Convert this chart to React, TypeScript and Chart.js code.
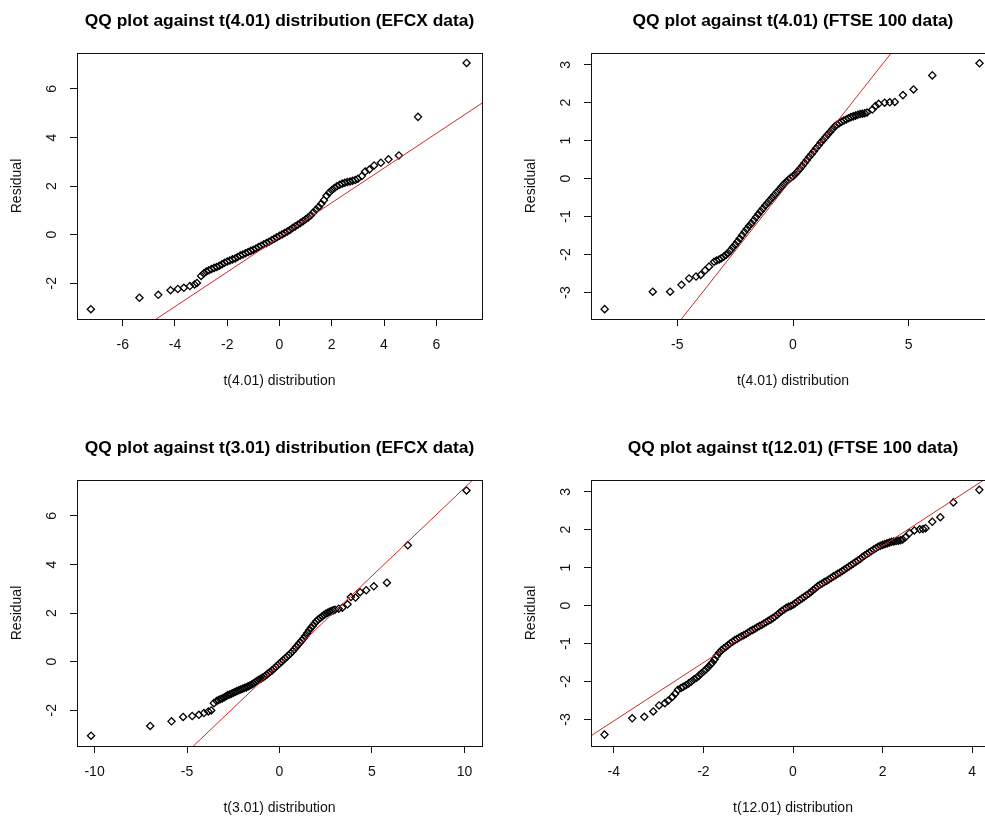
import React, { useEffect, useRef } from "react";
import { Chart, registerables } from "chart.js";

Chart.register(...registerables);

const FONT = '"Liberation Sans", Arial, Helvetica, sans-serif';

// ---------- Panel titles / labels ----------
const panelTitles = [
  "QQ plot against t(4.01) distribution (EFCX data)",
  "QQ plot against t(4.01) (FTSE 100 data)",
  "QQ plot against t(3.01) distribution (EFCX data)",
  "QQ plot against t(12.01) (FTSE 100 data)",
];
const xAxisLabels = [
  "t(4.01) distribution",
  "t(4.01) distribution",
  "t(3.01) distribution",
  "t(12.01) distribution",
];
const yAxisLabel = "Residual";

// ---------- Tick values ----------
const efcxT4XTicks = [-6, -4, -2, 0, 2, 4, 6];
const ftseT4XTicks = [-5, 0, 5];
const efcxT3XTicks = [-10, -5, 0, 5, 10];
const ftseT12XTicks = [-4, -2, 0, 2, 4];
const efcxYTicks = [-2, 0, 2, 4, 6];
const ftseYTicks = [-3, -2, -1, 0, 1, 2, 3];

// ---------- Axis ranges ----------
const efcxT4XRange = [-7.75, 7.75];
const ftseT4XRange = [-8.73, 8.73];
const efcxT3XRange = [-10.95, 10.95];
const ftseT12XRange = [-4.51, 4.51];
const efcxYRange = [-3.475, 7.48];
const ftseYRange = [-3.7, 3.31];

// ---------- Panel 1: EFCX vs t(4.01) ----------
const efcxT4Quantiles = [
  -7.22, -5.36, -4.64, -4.17, -3.89, -3.66, -3.43, -3.25, -3.16,
  -3.0, -2.9, -2.8, -2.7, -2.6, -2.5, -2.4, -2.3, -2.2, -2.1,
  -2.0, -1.9, -1.8, -1.7, -1.6, -1.5, -1.4, -1.3, -1.2, -1.1,
  -1.0, -0.9, -0.8, -0.7, -0.6, -0.5, -0.4, -0.3, -0.2, -0.1,
  0.0, 0.1, 0.2, 0.3, 0.4, 0.5, 0.6, 0.7, 0.8, 0.9,
  1.0, 1.1, 1.2, 1.3, 1.4, 1.5, 1.6, 1.7, 1.8, 1.9,
  2.0, 2.1, 2.2, 2.3, 2.4, 2.5, 2.6, 2.7, 2.8, 2.9, 3.0,
  3.15, 3.28, 3.44, 3.62, 3.88, 4.17, 4.57, 5.3, 7.16,
];
const efcxT4Residuals = [
  -3.07, -2.6, -2.48, -2.29, -2.24, -2.19, -2.12, -2.05, -1.99,
  -1.7, -1.6, -1.52, -1.47, -1.42, -1.37, -1.33, -1.28, -1.22, -1.16,
  -1.11, -1.07, -1.02, -0.98, -0.92, -0.86, -0.82, -0.77, -0.72, -0.67,
  -0.62, -0.57, -0.51, -0.46, -0.4, -0.35, -0.29, -0.23, -0.17, -0.11,
  -0.05, 0.01, 0.07, 0.13, 0.19, 0.27, 0.34, 0.41, 0.48, 0.55,
  0.63, 0.71, 0.8, 0.92, 1.03, 1.14, 1.27, 1.42, 1.6, 1.73,
  1.83, 1.92, 1.99, 2.05, 2.1, 2.14, 2.17, 2.19, 2.22, 2.25, 2.3,
  2.41, 2.6, 2.68, 2.85, 2.96, 3.1, 3.26, 4.85, 7.07,
];
const efcxT4LineX = [-4.75, 7.8];
const efcxT4LineY = [-3.5, 5.45];

// ---------- Panel 2: FTSE 100 vs t(4.01) ----------
const ftseT4Quantiles = [
  -8.14, -6.06, -5.31, -4.82, -4.49, -4.19, -3.99, -3.8, -3.63, -3.41, -3.3, -3.19, -3.1,
  -3.0, -2.9, -2.8, -2.7, -2.6, -2.5, -2.4, -2.3, -2.2, -2.1,
  -2.0, -1.9, -1.8, -1.7, -1.6, -1.5, -1.4, -1.3, -1.2, -1.1,
  -1.0, -0.9, -0.8, -0.7, -0.6, -0.5, -0.4, -0.3, -0.2, -0.1,
  0.0, 0.1, 0.2, 0.3, 0.4, 0.5, 0.6, 0.7, 0.8, 0.9,
  1.0, 1.1, 1.2, 1.3, 1.4, 1.5, 1.6, 1.7, 1.8, 1.9,
  2.0, 2.1, 2.2, 2.3, 2.4, 2.5, 2.6, 2.7, 2.8, 2.9,
  3.0, 3.1, 3.2,
  3.43, 3.56, 3.7, 3.96, 4.18, 4.4, 4.75, 5.21, 6.02, 8.06,
];
const ftseT4Residuals = [
  -3.44, -2.98, -2.98, -2.8, -2.63, -2.58, -2.54, -2.42, -2.32, -2.19, -2.16, -2.13, -2.1,
  -2.06, -2.01, -1.96, -1.89, -1.81, -1.74, -1.66, -1.58, -1.49, -1.41,
  -1.33, -1.25, -1.18, -1.1, -1.02, -0.94, -0.86, -0.79, -0.71, -0.64,
  -0.57, -0.5, -0.43, -0.36, -0.29, -0.22, -0.15, -0.09, -0.03, 0.02,
  0.06, 0.12, 0.19, 0.26, 0.33, 0.41, 0.49, 0.57, 0.64, 0.72,
  0.8, 0.87, 0.95, 1.02, 1.09, 1.16, 1.23, 1.3, 1.37, 1.42,
  1.46, 1.5, 1.53, 1.56, 1.59, 1.62, 1.64, 1.66, 1.68, 1.7,
  1.71, 1.72, 1.74,
  1.82, 1.91, 1.97, 2.0, 2.01, 2.02, 2.2, 2.35, 2.72, 3.04,
];
const ftseT4LineX = [-4.9, 4.4];
const ftseT4LineY = [-3.76, 3.43];

// ---------- Panel 3: EFCX vs t(3.01) ----------
const efcxT3Quantiles = [
  -10.19, -6.99, -5.84, -5.21, -4.72, -4.36, -4.09, -3.85, -3.69, -3.55,
  -3.4, -3.3, -3.2, -3.1, -3.0, -2.9, -2.8, -2.7, -2.6, -2.5,
  -2.4, -2.3, -2.2, -2.1, -2.0, -1.9, -1.8, -1.7, -1.6, -1.5,
  -1.4, -1.3, -1.2, -1.1, -1.0, -0.9, -0.8, -0.7, -0.6, -0.5,
  -0.4, -0.3, -0.2, -0.1, 0.0, 0.1, 0.2, 0.3, 0.4, 0.5,
  0.6, 0.7, 0.8, 0.9, 1.0, 1.1, 1.2, 1.3, 1.4, 1.5,
  1.6, 1.7, 1.8, 1.9, 2.0, 2.1, 2.2, 2.3, 2.4, 2.5,
  2.6, 2.7, 2.8, 2.9, 3.0, 3.2, 3.4,
  3.68, 3.86, 4.11, 4.36, 4.69, 5.1, 5.81, 6.94, 10.11,
];
const efcxT3Residuals = [
  -3.05, -2.65, -2.46, -2.28, -2.24, -2.19, -2.12, -2.05, -2.01, -1.71,
  -1.62, -1.58, -1.55, -1.52, -1.48, -1.43, -1.38, -1.35, -1.32, -1.28,
  -1.25, -1.21, -1.18, -1.15, -1.12, -1.09, -1.06, -1.02, -0.98, -0.94,
  -0.89, -0.84, -0.79, -0.74, -0.7, -0.65, -0.6, -0.54, -0.48, -0.42,
  -0.36, -0.29, -0.22, -0.15, -0.08, -0.01, 0.06, 0.13, 0.2, 0.27,
  0.34, 0.42, 0.51, 0.6, 0.69, 0.78, 0.87, 0.96, 1.06, 1.18,
  1.29, 1.39, 1.48, 1.58, 1.67, 1.74, 1.8, 1.86, 1.92, 1.97,
  2.01, 2.05, 2.08, 2.11, 2.14, 2.18, 2.22,
  2.36, 2.66, 2.64, 2.86, 2.94, 3.1, 3.25, 4.79, 7.05,
];
const efcxT3LineX = [-4.8, 11.0];
const efcxT3LineY = [-3.58, 7.88];

// ---------- Panel 4: FTSE 100 vs t(12.01) ----------
const ftseT12Quantiles = [
  -4.21, -3.59, -3.32, -3.12, -2.99, -2.86, -2.79, -2.69, -2.63, -2.57, -2.5, -2.45,
  -2.39, -2.33, -2.27, -2.21, -2.15, -2.1, -2.05, -1.99, -1.94, -1.89, -1.84,
  -1.8, -1.75, -1.7, -1.65, -1.6, -1.55, -1.5, -1.45, -1.4, -1.35,
  -1.3, -1.25, -1.2, -1.15, -1.1, -1.05, -1.0, -0.95, -0.9, -0.85,
  -0.8, -0.75, -0.7, -0.65, -0.6, -0.55, -0.5, -0.45, -0.4, -0.35,
  -0.3, -0.25, -0.2, -0.15, -0.1, -0.05, 0.0, 0.05, 0.1, 0.15,
  0.2, 0.25, 0.3, 0.35, 0.4, 0.45, 0.5, 0.55, 0.6, 0.65,
  0.7, 0.75, 0.8, 0.85, 0.9, 0.95, 1.0, 1.05, 1.1, 1.15,
  1.2, 1.25, 1.3, 1.35, 1.4, 1.45, 1.5, 1.55, 1.6, 1.65,
  1.7, 1.75, 1.8, 1.85, 1.9, 1.95, 2.0, 2.05, 2.1, 2.15,
  2.2, 2.25, 2.3, 2.35, 2.4, 2.45,
  2.51, 2.6, 2.71, 2.83, 2.9, 2.96, 3.11, 3.29, 3.58, 4.16,
];
const ftseT12Residuals = [
  -3.4, -2.97, -2.93, -2.79, -2.63, -2.57, -2.51, -2.4, -2.32, -2.22, -2.17, -2.14,
  -2.1, -2.05, -2.0, -1.94, -1.9, -1.85, -1.79, -1.73, -1.68, -1.62, -1.55,
  -1.5, -1.42, -1.32, -1.24, -1.18, -1.13, -1.09, -1.04, -0.99, -0.95,
  -0.91, -0.88, -0.84, -0.81, -0.78, -0.75, -0.71, -0.67, -0.64, -0.61,
  -0.57, -0.54, -0.51, -0.47, -0.44, -0.4, -0.37, -0.33, -0.29, -0.24,
  -0.19, -0.14, -0.1, -0.06, -0.03, -0.01, 0.02, 0.06, 0.11, 0.15,
  0.19, 0.23, 0.27, 0.31, 0.36, 0.41, 0.46, 0.51, 0.55, 0.58,
  0.62, 0.65, 0.69, 0.73, 0.77, 0.8, 0.84, 0.87, 0.91, 0.95,
  0.99, 1.03, 1.07, 1.11, 1.15, 1.19, 1.23, 1.28, 1.32, 1.36,
  1.4, 1.44, 1.48, 1.51, 1.55, 1.58, 1.6, 1.62, 1.64, 1.66,
  1.68, 1.69, 1.7, 1.71, 1.72, 1.74,
  1.8, 1.91, 1.98, 2.01, 2.02, 2.04, 2.21, 2.33, 2.72, 3.05,
];
const ftseT12LineX = [-4.6, 4.6];
const ftseT12LineY = [-3.5, 3.57];

// ---------- Panel definitions (layout only) ----------
type Panel = {
  title: string;
  xLabel: string;
  qx: number[];
  ry: number[];
  lx: number[];
  ly: number[];
  xTicks: number[];
  yTicks: number[];
  xRange: number[];
  yRange: number[];
  left: number;
  top: number;
  w: number;
  h: number;
  pad: { left: number; right: number; top: number; bottom: number };
};

const panels: Panel[] = [
  {
    title: panelTitles[0], xLabel: xAxisLabels[0],
    qx: efcxT4Quantiles, ry: efcxT4Residuals, lx: efcxT4LineX, ly: efcxT4LineY,
    xTicks: efcxT4XTicks, yTicks: efcxYTicks, xRange: efcxT4XRange, yRange: efcxYRange,
    left: 0, top: 0, w: 492, h: 408,
    pad: { left: 37, right: 10, top: 53, bottom: 29 },
  },
  {
    title: panelTitles[1], xLabel: xAxisLabels[1],
    qx: ftseT4Quantiles, ry: ftseT4Residuals, lx: ftseT4LineX, ly: ftseT4LineY,
    xTicks: ftseT4XTicks, yTicks: ftseYTicks, xRange: ftseT4XRange, yRange: ftseYRange,
    left: 492, top: 0, w: 510, h: 408,
    pad: { left: 59, right: 7, top: 53, bottom: 29 },
  },
  {
    title: panelTitles[2], xLabel: xAxisLabels[2],
    qx: efcxT3Quantiles, ry: efcxT3Residuals, lx: efcxT3LineX, ly: efcxT3LineY,
    xTicks: efcxT3XTicks, yTicks: efcxYTicks, xRange: efcxT3XRange, yRange: efcxYRange,
    left: 0, top: 408, w: 492, h: 408,
    pad: { left: 37, right: 10, top: 72, bottom: 10 },
  },
  {
    title: panelTitles[3], xLabel: xAxisLabels[3],
    qx: ftseT12Quantiles, ry: ftseT12Residuals, lx: ftseT12LineX, ly: ftseT12LineY,
    xTicks: ftseT12XTicks, yTicks: ftseYTicks, xRange: ftseT12XRange, yRange: ftseYRange,
    left: 492, top: 408, w: 510, h: 408,
    pad: { left: 59, right: 7, top: 72, bottom: 10 },
  },
];

function framePlugin(p: Panel) {
  return {
    id: "rFrame",
    afterDraw(chart: any) {
      const { ctx, chartArea: a } = chart;
      const yScale = chart.scales.y;
      ctx.save();
      ctx.strokeStyle = "#111";
      ctx.lineWidth = 1;
      const l = Math.round(a.left), t = Math.round(a.top);
      const r = Math.round(a.right), b = Math.round(a.bottom);
      ctx.strokeRect(l + 0.5, t + 0.5, r - l, b - t);

      ctx.fillStyle = "#000";
      ctx.textAlign = "center";
      ctx.textBaseline = "middle";
      const cx = (a.left + a.right) / 2;
      ctx.font = `bold 17.4px ${FONT}`;
      ctx.fillText(p.title, cx, a.top - 32);

      ctx.fillStyle = "#111";
      ctx.font = `14px ${FONT}`;
      ctx.fillText(p.xLabel, cx, a.bottom + 62);

      ctx.save();
      ctx.translate(a.left - 60, (a.top + a.bottom) / 2);
      ctx.rotate(-Math.PI / 2);
      ctx.fillText(yAxisLabel, 0, 0);
      ctx.restore();

      p.yTicks.forEach((v) => {
        const py = yScale.getPixelForValue(v);
        ctx.save();
        ctx.translate(a.left - 25, py);
        ctx.rotate(-Math.PI / 2);
        ctx.fillText(String(v), 0, 0);
        ctx.restore();
      });
      ctx.restore();
    },
  };
}

function QQPanel({ p }: { p: Panel }) {
  const ref = useRef<HTMLCanvasElement | null>(null);
  useEffect(() => {
    if (!ref.current) return;
    const points = p.qx.map((x, i) => ({ x, y: p.ry[i] }));
    const line = p.lx.map((x, i) => ({ x, y: p.ly[i] }));
    const tickGrid = {
      display: true,
      drawOnChartArea: false,
      drawTicks: true,
      tickLength: 7,
      color: "#111",
      lineWidth: 1,
    };
    const chart = new Chart(ref.current, {
      type: "scatter",
      data: {
        datasets: [
          {
            label: "qqline",
            data: line,
            showLine: true,
            borderColor: "rgb(205,40,40)",
            borderWidth: 1,
            pointRadius: 0,
            fill: false,
            clip: 0,
          } as any,
          {
            label: "points",
            data: points,
            pointStyle: "rectRot",
            pointRadius: 3.6,
            pointBorderWidth: 1.3,
            pointBorderColor: "#000",
            pointBackgroundColor: "rgba(0,0,0,0)",
            borderColor: "#000",
            backgroundColor: "rgba(0,0,0,0)",
          } as any,
        ],
      },
      options: {
        responsive: false,
        animation: false,
        devicePixelRatio: 1,
        events: [],
        layout: { padding: p.pad },
        plugins: {
          legend: { display: false },
          tooltip: { enabled: false },
          title: { display: false },
        },
        scales: {
          x: {
            type: "linear",
            min: p.xRange[0],
            max: p.xRange[1],
            afterBuildTicks: (s: any) => {
              s.ticks = p.xTicks.map((v) => ({ value: v }));
            },
            afterFit: (s: any) => {
              s.height = 60;
            },
            grid: tickGrid,
            border: { display: false },
            ticks: {
              color: "#111",
              font: { family: FONT, size: 14 },
              padding: 11,
              maxRotation: 0,
              autoSkip: false,
              callback: (v: any) => String(v),
            },
          },
          y: {
            type: "linear",
            min: p.yRange[0],
            max: p.yRange[1],
            afterBuildTicks: (s: any) => {
              s.ticks = p.yTicks.map((v) => ({ value: v }));
            },
            afterFit: (s: any) => {
              s.width = 40;
            },
            grid: tickGrid,
            border: { display: false },
            ticks: { display: false },
          },
        },
      } as any,
      plugins: [framePlugin(p)],
    });
    return () => chart.destroy();
  }, [p]);
  return (
    <canvas
      ref={ref}
      width={p.w}
      height={p.h}
      style={{ position: "absolute", left: p.left, top: p.top, width: p.w, height: p.h }}
    />
  );
}

export default function App() {
  return (
    <div
      style={{
        position: "absolute",
        left: 0,
        top: 0,
        width: 985,
        height: 816,
        overflow: "hidden",
        background: "#fff",
      }}
    >
      {panels.map((p, i) => (
        <QQPanel key={i} p={p} />
      ))}
    </div>
  );
}
